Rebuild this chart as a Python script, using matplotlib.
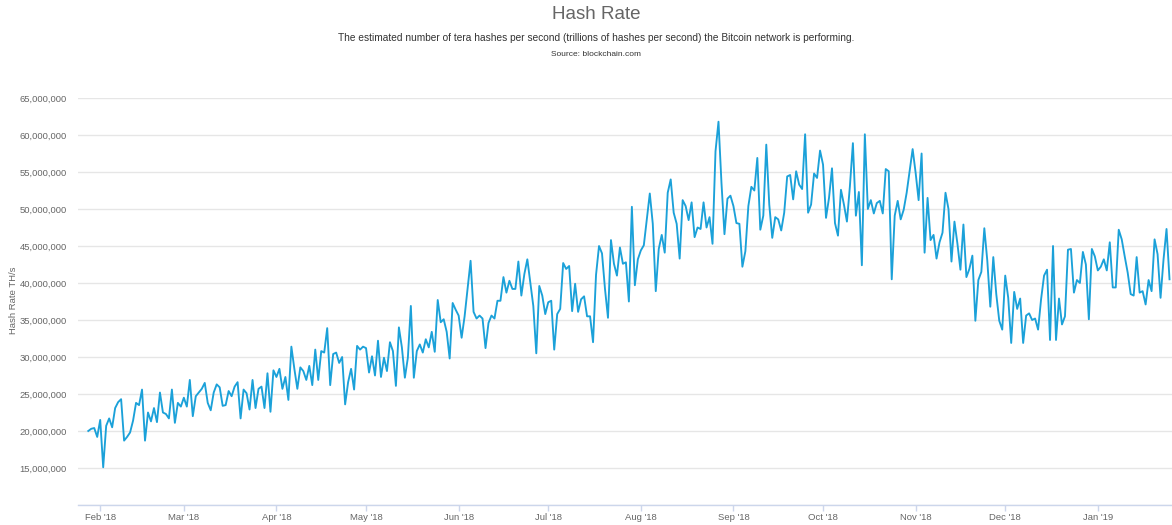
import numpy as np
import pandas as pd
import matplotlib
matplotlib.use("Agg")
import matplotlib.pyplot as plt
import matplotlib.ticker as mticker
import matplotlib.dates as mdates

plt.rcParams["font.family"] = ["Liberation Sans", "DejaVu Sans"]

# daily hash rate, millions of TH/s, one list per calendar month
jan_2018 = [20.0, 20.3, 20.4, 19.2]
feb_2018 = [21.5, 15.1, 20.7, 21.7, 20.5, 23.1, 23.9, 24.3, 18.7, 19.2, 19.8, 21.4, 23.8, 23.5,
            25.6, 18.7, 22.5, 21.3, 23.1, 21.2, 25.2, 22.5, 22.3, 21.7, 25.6, 21.1, 23.8, 23.3]
mar_2018 = [24.5, 23.3, 26.9, 22.0, 24.7, 25.2, 25.7, 26.5, 23.8, 22.8, 25.2, 26.3, 25.9, 23.4,
            23.5, 25.4, 24.7, 26.0, 26.6, 21.7, 25.6, 25.1, 22.9, 26.9, 23.1, 25.7, 26.0, 23.1,
            27.8, 22.6, 28.2]
apr_2018 = [27.3, 28.4, 25.7, 27.3, 24.2, 31.4, 28.4, 25.7, 28.6, 28.1, 26.9, 28.8, 26.2, 31.0,
            26.9, 30.8, 30.6, 33.9, 26.2, 30.4, 30.6, 29.2, 30.0, 23.6, 26.6, 28.4, 25.6, 31.5,
            31.0, 31.4]
may_2018 = [31.2, 27.9, 30.1, 27.5, 32.2, 27.3, 29.9, 28.1, 32.0, 30.8, 26.1, 34.0, 31.3, 27.2,
            29.9, 36.9, 27.2, 30.8, 31.7, 30.6, 32.4, 31.3, 33.4, 30.7, 37.7, 34.7, 35.1, 33.4,
            29.8, 37.3, 36.4]
jun_2018 = [35.6, 32.6, 35.5, 39.2, 43.0, 36.1, 35.2, 35.6, 35.2, 31.2, 34.6, 35.6, 35.2, 37.6,
            37.6, 40.8, 38.7, 40.3, 39.2, 39.2, 42.9, 38.3, 41.2, 43.2, 40.1, 36.9, 30.5, 39.6,
            38.3, 35.8]
jul_2018 = [37.4, 37.6, 31.0, 35.8, 36.5, 42.7, 41.9, 42.3, 36.2, 39.9, 36.1, 37.8, 38.2, 35.5,
            35.5, 32.0, 41.1, 45.0, 44.0, 39.2, 35.3, 45.8, 42.6, 41.0, 44.8, 42.6, 42.8, 37.5,
            50.3, 39.7, 43.2]
aug_2018 = [44.4, 45.1, 48.6, 52.1, 48.0, 38.9, 44.6, 46.5, 44.1, 52.2, 54.0, 49.5, 48.0, 43.3,
            51.2, 50.4, 48.5, 50.9, 46.2, 47.5, 47.3, 50.9, 47.5, 48.9, 45.3, 57.8, 61.8, 53.5,
            46.6, 51.4, 51.8]
sep_2018 = [50.4, 48.1, 48.0, 42.2, 44.3, 50.4, 53.0, 52.5, 56.9, 47.2, 49.1, 58.7, 50.6, 46.1,
            48.9, 48.6, 47.1, 49.5, 54.4, 54.6, 51.3, 55.1, 53.3, 52.7, 60.1, 49.5, 50.6, 54.8,
            54.2, 57.9]
oct_2018 = [56.0, 48.8, 51.5, 55.5, 48.1, 46.4, 52.6, 50.6, 48.3, 53.1, 58.9, 49.1, 52.3, 42.4,
            60.1, 50.0, 51.2, 49.4, 50.8, 51.1, 49.4, 55.4, 55.1, 40.5, 49.1, 51.1, 48.6, 49.9,
            52.2, 55.1, 58.1]
nov_2018 = [54.9, 51.2, 57.5, 44.1, 51.5, 45.8, 46.5, 43.3, 45.5, 46.8, 52.2, 50.0, 42.9, 48.3,
            45.3, 41.8, 47.9, 40.8, 41.9, 43.7, 34.9, 40.4, 41.5, 47.4, 43.0, 36.8, 43.5, 38.5,
            34.9, 33.7]
dec_2018 = [41.0, 38.0, 31.9, 38.8, 36.5, 37.9, 31.9, 35.6, 35.9, 35.0, 35.2, 33.7, 37.8, 41.0,
            41.8, 32.3, 45.0, 32.3, 37.9, 34.4, 35.5, 44.5, 44.6, 38.7, 40.4, 40.0, 44.2, 42.5,
            35.1, 44.6, 43.6]
jan_2019 = [41.7, 42.2, 43.2, 41.7, 45.5, 39.4, 39.4, 47.2, 45.9, 43.6, 41.4, 38.5, 38.3, 43.5,
            38.7, 38.9, 37.1, 40.4, 38.9, 45.9, 43.9, 38.0, 43.2, 47.3, 40.5]

start_date = "2018-01-28"

title = "Hash Rate"
subtitle = ("The estimated number of tera hashes per second (trillions of hashes per second) "
            "the Bitcoin network is performing.")
source = "Source: blockchain.com"
y_label = "Hash Rate TH/s"

LINE_BLUE = "#1ba1d9"
GRID = "#e6e6e6"
TEXT = "#666666"


def build_series():
    months = [jan_2018, feb_2018, mar_2018, apr_2018, may_2018, jun_2018, jul_2018,
              aug_2018, sep_2018, oct_2018, nov_2018, dec_2018, jan_2019]
    values = np.concatenate([np.asarray(m, dtype=float) for m in months]) * 1e6
    dates = pd.date_range(start_date, periods=len(values), freq="D")
    return pd.Series(values, index=dates)


def draw(series, save_path="out.png"):
    fig = plt.figure(figsize=(11.72, 5.25), dpi=100)
    ax = fig.add_axes([0.0666, 0.0381, 0.9334, 0.7752])

    ax.plot(series.index, series.values, color=LINE_BLUE, linewidth=1.35,
            solid_joinstyle="round", zorder=3)

    ax.set_ylim(10e6, 65e6)
    ax.set_xlim(pd.Timestamp("2018-01-24 14:00"), pd.Timestamp("2019-01-25 20:00"))

    ax.yaxis.set_major_locator(mticker.MultipleLocator(5e6))
    # bottom gridline (10M) sits on the axis line and carries no label
    ax.yaxis.set_major_formatter(mticker.FuncFormatter(
        lambda v, _: "" if v < 14e6 else f"{int(round(v)):,}"))
    ax.xaxis.set_major_locator(mdates.MonthLocator())
    ax.xaxis.set_major_formatter(mdates.DateFormatter("%b '%y"))

    ax.grid(axis="y", color=GRID, linewidth=1.0)
    ax.set_axisbelow(True)
    for side in ("top", "right", "left"):
        ax.spines[side].set_visible(False)
    ax.spines["bottom"].set_color("#ccd6eb")
    ax.spines["bottom"].set_linewidth(1.0)

    ax.tick_params(axis="y", length=0, pad=8, labelsize=6.8, labelcolor=TEXT)
    ax.tick_params(axis="x", length=4, width=1, color="#ccd6eb", pad=2,
                   labelsize=6.8, labelcolor=TEXT)

    fig.text(0.0112, 0.428, y_label, rotation=90, ha="center", va="center",
             fontsize=6.8, color=TEXT)

    fig.text(0.5085, 0.972, title, ha="center", va="center", fontsize=13.5, color=TEXT)
    fig.text(0.5085, 0.927, subtitle, ha="center", va="center", fontsize=7.3, color="#333333")
    fig.text(0.5085, 0.896, source, ha="center", va="center", fontsize=6.0, color="#333333")

    fig.savefig(save_path, dpi=100)
    plt.close(fig)


def main():
    series = build_series()
    draw(series)


if __name__ == "__main__":
    main()
